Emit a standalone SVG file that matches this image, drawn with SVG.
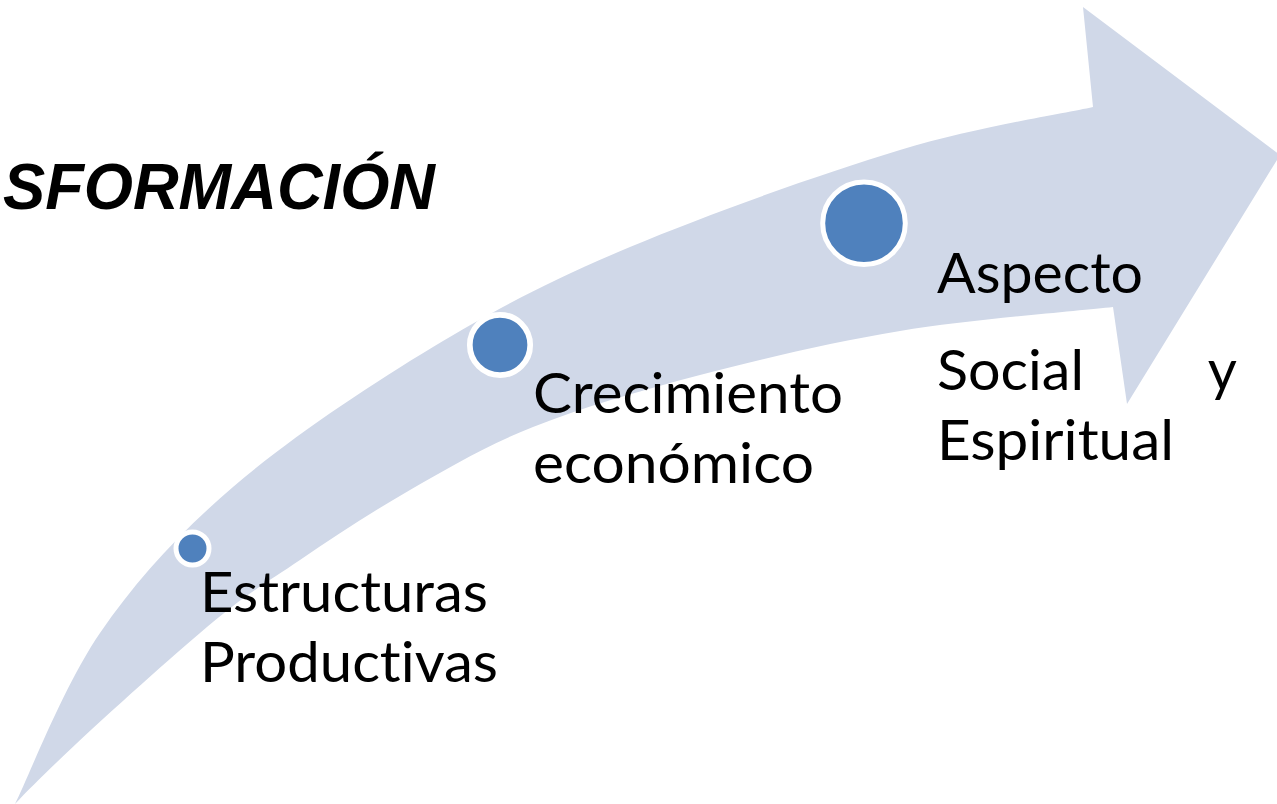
<svg xmlns="http://www.w3.org/2000/svg" width="1277" height="804" viewBox="0 0 1277 804">
<style>
.arrow{fill:#D0D8E8;stroke:none}
.dot{fill:#4F81BD;stroke:#FFFFFF}
.lbl{font-family:Lato,"Open Sans","Liberation Sans",sans-serif;font-size:56.5px;fill:#000000;font-variant-ligatures:none;font-feature-settings:"liga" 0,"clig" 0,"dlig" 0}
.title{font-family:"Liberation Sans",Arial,sans-serif;font-size:64px;font-weight:bold;font-style:italic;fill:#000000}
</style>
<rect width="1277" height="804" fill="#FFFFFF"/>
<g id="arrow">
<path class="arrow" d="M 15,804 C 29.2,775.5 63.7,685.8 100,633 C 136.3,580.2 177.5,534.7 233,487 C 288.5,439.3 366.8,387 433,347 C 499.2,307 552.2,279.8 630,247 C 707.8,214.2 822.8,173.3 900,150 C 977.2,126.7 1060.8,114.2 1093,107 L 1083,7 L 1280,155 L 1127,404 L 1113,307 C 1077.5,311 968.8,319.7 900,331 C 831.2,342.3 761.2,359 700,375 C 638.8,391 581.3,407.8 533,427 C 484.7,446.2 448.8,467.8 410,490 C 371.2,512.2 335,536.2 300,560 C 265,583.8 247.5,592.3 200,633 C 152.5,673.7 58,758 15,804 Z"/>
</g>
<g id="title">
<text class="title" x="3" y="209" textLength="432" lengthAdjust="spacingAndGlyphs">SFORMACIÓN</text>
</g>
<g id="node1">
<circle class="dot" cx="192.5" cy="548.5" r="16.5" stroke-width="5"/>
<text class="lbl" x="200" y="612" textLength="288" lengthAdjust="spacingAndGlyphs">Estructuras</text>
<text class="lbl" x="200" y="682" textLength="298" lengthAdjust="spacingAndGlyphs">Productivas</text>
</g>
<g id="node2">
<circle class="dot" cx="500" cy="345" r="30.2" stroke-width="5.7"/>
<text class="lbl" x="533" y="413" textLength="310" lengthAdjust="spacingAndGlyphs">Crecimiento</text>
<text class="lbl" x="533" y="483" textLength="281" lengthAdjust="spacingAndGlyphs">económico</text>
</g>
<g id="node3">
<circle class="dot" cx="864" cy="223.3" r="41.3" stroke-width="5"/>
<text class="lbl" x="937" y="293" textLength="206" lengthAdjust="spacingAndGlyphs">Aspecto</text>
<text class="lbl" x="937" y="390" textLength="147" lengthAdjust="spacingAndGlyphs">Social</text>
<text class="lbl" x="1237" y="390" text-anchor="end">y</text>
<text class="lbl" x="937" y="460" textLength="237" lengthAdjust="spacingAndGlyphs">Espiritual</text>
</g>
<g id="connectors"></g>
</svg>
